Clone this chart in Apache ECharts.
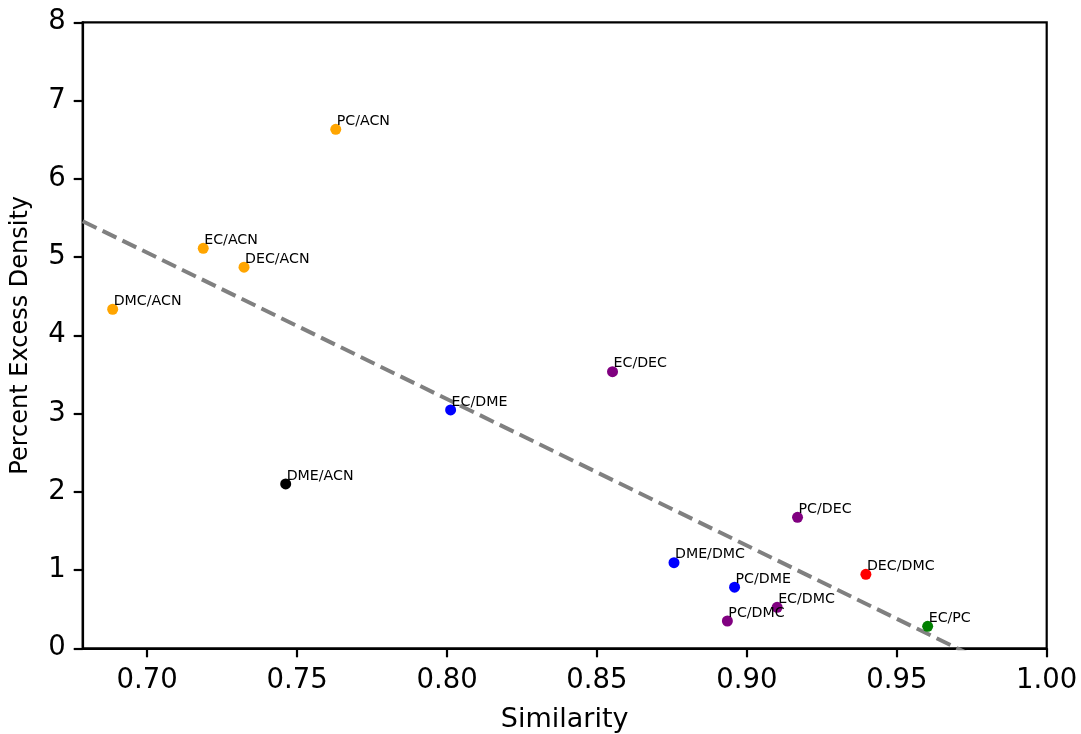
<!DOCTYPE html>
<html>
<head>
<meta charset="utf-8">
<script src="https://cdn.jsdelivr.net/npm/echarts@6/dist/echarts.min.js"></script>
<style>
html,body{margin:0;padding:0;background:#fff;}
#chart{width:1081px;height:734px;}
</style>
</head>
<body>
<div id="chart"></div>
<script>
const pairLabels = ["PC/ACN","EC/ACN","DEC/ACN","DMC/ACN","EC/DEC","EC/DME","DME/ACN","PC/DEC","DME/DMC","DEC/DMC","PC/DME","EC/DMC","PC/DMC","EC/PC"];
const similarity = [0.7629,0.7187,0.7323,0.6885,0.8552,0.8012,0.7462,0.9169,0.8757,0.9397,0.8959,0.9101,0.8935,0.9603];
const excessDensity = [6.633,5.112,4.870,4.333,3.535,3.046,2.100,1.674,1.094,0.946,0.781,0.524,0.349,0.281];
const pointColors = ["#FFA500","#FFA500","#FFA500","#FFA500","#800080","#0000FF","#000000","#800080","#0000FF","#FF0000","#0000FF","#800080","#800080","#008000"];
const xTicks = [0.70,0.75,0.80,0.85,0.90,0.95,1.00];
const yTicks = [0,1,2,3,4,5,6,7,8];
const xRange = [0.6785, 1.0];

// least-squares fit for the trend line
const n = similarity.length;
const mx = similarity.reduce((a,b)=>a+b,0)/n;
const my = excessDensity.reduce((a,b)=>a+b,0)/n;
let sxy = 0, sxx = 0;
for (let i=0;i<n;i++){ sxy += (similarity[i]-mx)*(excessDensity[i]-my); sxx += (similarity[i]-mx)**2; }
const slope = sxy/sxx, intercept = my - slope*mx;
const fitLine = xRange.map(x => [x, intercept + slope*x]);

const FONT = "DejaVu Sans";
const chart = echarts.init(document.getElementById('chart'), null, {renderer:'canvas'});
chart.setOption({
  animation:false,
  backgroundColor:'#fff',
  grid:{left:82.7,right:34.3,top:22.3,bottom:85.7,containLabel:false,outerBoundsMode:'none',show:true,borderColor:'#000',borderWidth:2.2,backgroundColor:'transparent'},
  xAxis:{
    type:'value', min:xRange[0], max:xRange[1],
    name:'Similarity', nameLocation:'middle', nameGap:58,
    nameTextStyle:{fontFamily:FONT,fontSize:27,color:'#000'},
    axisLine:{show:true,onZero:false,lineStyle:{color:'#000',width:2.2}},
    axisTick:{show:true,length:9,inside:false,lineStyle:{color:'#000',width:2.2},customValues:xTicks},
    axisLabel:{fontFamily:FONT,fontSize:27.5,color:'#000',margin:19,customValues:xTicks,formatter:v=>v.toFixed(2)},
    splitLine:{show:false}
  },
  yAxis:{
    type:'value', min:0, max:8, interval:1,
    name:'Percent Excess Density', nameLocation:'middle', nameGap:50,
    nameTextStyle:{fontFamily:FONT,fontSize:24,color:'#000'},
    axisLine:{show:true,onZero:false,lineStyle:{color:'#000',width:2.2}},
    axisTick:{show:true,length:9,inside:false,lineStyle:{color:'#000',width:2.2},customValues:yTicks},
    axisLabel:{fontFamily:FONT,fontSize:27.5,color:'#000',margin:17,customValues:yTicks},
    splitLine:{show:false}
  },
  series:[
    {
      type:'line', data:fitLine, symbol:'none', clip:true, z:3,
      lineStyle:{color:'#808080',width:4,type:[15.4,6.7]}
    },
    {
      type:'scatter', symbolSize:11, z:4,
      data: similarity.map((x,i)=>({
        value:[x, excessDensity[i]],
        name: pairLabels[i],
        itemStyle:{color:pointColors[i], opacity:1}
      })),
      label:{
        show:true, formatter:p=>p.name, position:[6.5,4.5], align:'left', verticalAlign:'bottom',
        fontFamily:FONT, fontSize:14.2, color:'#000'
      },
      emphasis:{disabled:true}
    }
  ]
});
</script>
</body>
</html>
